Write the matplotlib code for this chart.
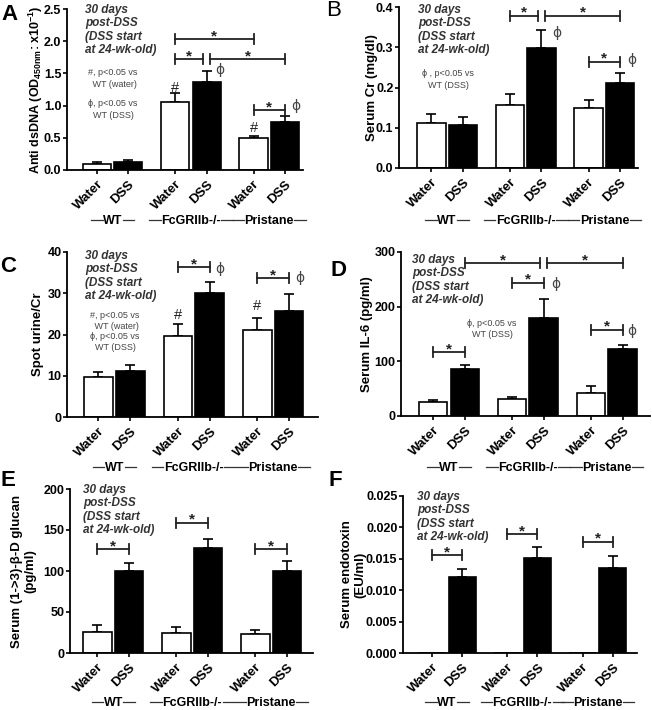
from matplotlib import pyplot as plt
from matplotlib import transforms
from matplotlib.lines import Line2D

plt.rcParams['font.family'] = ['Liberation Sans', 'DejaVu Sans']
plt.rcParams['font.weight'] = 'bold'
plt.rcParams['mathtext.fontset'] = 'custom'
plt.rcParams['mathtext.rm'] = 'Liberation Sans:bold'
plt.rcParams['mathtext.bf'] = 'Liberation Sans:bold'
plt.rcParams['mathtext.default'] = 'bf'

# 数据 (均值 / 上误差), 每组顺序: WT water, WT DSS, FcGR water, FcGR DSS, Pristane water, Pristane DSS
groups = ['WT', 'FcGRIIb-/-', 'Pristane']
bar_labels = ['Water', 'DSS', 'Water', 'DSS', 'Water', 'DSS']

a_mean = [0.10, 0.13, 1.06, 1.36, 0.49, 0.75]
a_err = [0.02, 0.02, 0.13, 0.17, 0.04, 0.09]
b_mean = [0.113, 0.107, 0.156, 0.299, 0.148, 0.210]
b_err = [0.022, 0.019, 0.029, 0.044, 0.020, 0.025]
c_mean = [9.7, 11.1, 19.7, 30.0, 21.1, 25.8]
c_err = [1.2, 1.5, 2.9, 2.7, 2.8, 4.0]
d_mean = [25.7, 85.6, 31.8, 178.6, 42.8, 121.7]
d_err = [3.0, 7.4, 3.0, 35.4, 11.6, 8.6]
e_mean = [25.7, 100.4, 24.9, 128.6, 23.7, 100.4]
e_err = [8.2, 9.8, 6.9, 10.2, 4.9, 11.8]
f_mean = [0, 0.0121, 0, 0.0152, 0, 0.0135]
f_err = [0, 0.0013, 0, 0.0017, 0, 0.0020]

# 显著性标记 (左柱, 右柱, 高度)
a_sig = [(2, 4, 2.03), (2, 3, 1.72), (3, 5, 1.72), (4, 5, 0.93)]
b_sig = [(2, 3, 0.378), (3, 5, 0.378), (4, 5, 0.264)]
c_sig = [(2, 3, 36.25), (4, 5, 33.7)]
d_sig = [(1, 3, 279), (3, 5, 279), (2, 3, 244), (0, 1, 117), (4, 5, 158)]
e_sig = [(0, 1, 126.5), (2, 3, 159), (4, 5, 126.5)]
f_sig = [(0, 1, 0.01559), (2, 3, 0.01888), (4, 5, 0.01771)]

note = '30 days\npost-DSS\n(DSS start\nat 24-wk-old)'
W, H = 652, 710
pos = [0, 1, 2.5, 3.5, 5, 6]

fig = plt.figure(figsize=(W / 100, H / 100), dpi=100)
group_texts = []


def panel(box, xlim, ylim, yticks, fmt, mean, err, sig, ylabel, ylab_x,
          letter, letter_xy, note_xy, group_y, hashes=(), phis=(), legend=None,
          letter_weight='bold', bar_w=0.9, ylab_size=9.5):
    l, r, t, b = box
    ax = fig.add_axes([l / W, 1 - b / H, (r - l) / W, (b - t) / H])
    hpx = b - t
    span = ylim[1] - ylim[0]
    colors = ['white', 'black'] * 3
    ax.bar(pos, mean, width=bar_w, color=colors, edgecolor='black', linewidth=1.2, zorder=2)
    for x, m, e in zip(pos, mean, err):
        if e > 0:
            ax.errorbar(x, m, yerr=[[0], [e]], color='black', capsize=3.5,
                        elinewidth=1.2, capthick=1.2, zorder=1)
    ax.set_xlim(xlim)
    ax.set_ylim(ylim)
    ax.set_yticks(yticks)
    ax.set_yticklabels([fmt % v for v in yticks], fontsize=9, fontweight='bold')
    ax.set_xticks(pos)
    ax.set_xticklabels(bar_labels, rotation=45, ha='right', rotation_mode='anchor',
                       fontsize=9.5, fontweight='bold')
    for s in ['top', 'right']:
        ax.spines[s].set_visible(False)
    for s in ['left', 'bottom']:
        ax.spines[s].set_linewidth(1.3)
    ax.tick_params(width=1.2, length=3)
    ax.tick_params(axis='y', pad=1)
    ax.tick_params(axis='x', pad=3)

    ax.text(ylab_x, 0.5, ylabel, rotation=90, transform=ax.transAxes,
            ha='center', va='center', fontsize=ylab_size, fontweight='bold',
            multialignment='center')

    # 括号
    ends = {}
    for i, j, y in sig:
        ends.setdefault((i, y), []).append('L')
        ends.setdefault((j, y), []).append('R')
    tick = 5 / hpx * span
    for i, j, y in sig:
        x1, x2 = pos[i], pos[j]
        if len(ends[(i, y)]) > 1:
            x1 += 0.12
        if len(ends[(j, y)]) > 1:
            x2 -= 0.1
        ax.plot([x1, x2], [y, y], color='#222222', lw=1.3, clip_on=False)
        for x in (x1, x2):
            ax.plot([x, x], [y - tick, y + tick], color='#222222', lw=1.3, clip_on=False)
        ax.text((x1 + x2) / 2, y - 1 / hpx * span, '*', ha='center', va='baseline',
                fontsize=11, fontweight='bold', color='#222222')
    for i, y in hashes:
        ax.text(pos[i], y, '#', ha='center', va='center', fontsize=10.5,
                fontweight='normal', color='#222222')
    for i, dx, y in phis:
        ax.text(pos[i] + dx, y, 'ϕ', ha='center', va='center', fontsize=10,
                fontweight='normal', color='#444444', family=['DejaVu Sans'])

    fig.text(note_xy[0] / W, 1 - note_xy[1] / H, note, ha='left', va='top',
             fontsize=8.5, fontweight='bold', style='italic', color='#333333',
             linespacing=1.15)
    if legend:
        for txt, lx, ly, ls in legend:
            fig.text(lx / W, 1 - ly / H, txt, ha='center', va='center', fontsize=6.5,
                     fontweight='normal', color='#444444', linespacing=ls,
                     family=['Liberation Sans', 'DejaVu Sans'])
    fig.text(letter_xy[0] / W, 1 - letter_xy[1] / H, letter, ha='center', va='center',
             fontsize=16, fontweight=letter_weight)

    trans = transforms.blended_transform_factory(ax.transData, fig.transFigure)
    for g, name in enumerate(groups):
        tx = ax.text((pos[2 * g] + pos[2 * g + 1]) / 2, 1 - group_y / H, name,
                     transform=trans, ha='center', va='center', fontsize=9, fontweight='bold')
        group_texts.append((tx, group_y))
    return ax


panel((67, 303, 9, 170), (-0.96, 6.58), (0, 2.5), [0, 0.5, 1.0, 1.5, 2.0, 2.5], '%.1f',
      a_mean, a_err, a_sig, r'Anti dsDNA (OD$_{450nm}$: x10$^{-1}$)', -0.13,
      'A', (9, 14), (85, 4), 221,
      hashes=[(2, 1.27), (4, 0.65)], phis=[(3, 0.42, 1.55), (5, 0.35, 0.99)],
      legend=[('#, p<0.05 vs\n WT (water)', 113, 78.5, 1.4),
              ('ϕ, p<0.05 vs\nWT (DSS)', 113, 109.5, 1.4)], ylab_size=9)

panel((399, 638, 7, 168), (-1.03, 6.57), (0, 0.4), [0, 0.1, 0.2, 0.3, 0.4], '%.1f',
      b_mean, b_err, b_sig, 'Serum Cr (mg/dl)', -0.115,
      'B', (334, 10), (418, 4), 221,
      phis=[(3, 0.5, 0.335), (5, 0.38, 0.269)],
      legend=[('ϕ , p<0.05 vs\nWT (DSS)', 448, 79.5, 1.4)],
      letter_weight='normal')

panel((67, 318, 252, 417), (-0.99, 6.91), (0, 40), [0, 10, 20, 30, 40], '%d',
      c_mean, c_err, c_sig, 'Spot urine/Cr', -0.116,
      'C', (8, 267), (85, 250), 468,
      hashes=[(2, 24.7), (4, 26.8)], phis=[(3, 0.32, 36.0), (5, 0.35, 33.7)],
      legend=[('#, p<0.05 vs\n WT (water)\nϕ, p<0.05 vs\nWT (DSS)', 115, 331.5, 1.2)])

panel((401, 650, 252, 416), (-1.02, 6.87), (0, 300), [0, 100, 200, 300], '%d',
      d_mean, d_err, d_sig, 'Serum IL-6 (pg/ml)', -0.135,
      'D', (338, 271), (412, 254), 468,
      phis=[(3, 0.38, 242), (5, 0.3, 156)],
      legend=[('ϕ, p<0.05 vs\nWT (DSS)', 492, 329, 1.4)])

panel((70, 313, 489, 653), (-0.87, 6.82), (0, 200), [0, 50, 100, 150, 200], '%d',
      e_mean, e_err, e_sig, 'Serum (1->3)-β-D glucan\n(pg/ml)', -0.19,
      'E', (8, 480), (83, 484), 703)

panel((403, 637, 496, 653), (-0.96, 6.8), (0, 0.025), [0, 0.005, 0.010, 0.015, 0.020, 0.025], '%.3f',
      f_mean, f_err, f_sig, 'Serum endotoxin\n(EU/ml)', -0.21,
      'F', (335, 481), (417, 491), 703)

# 组名两侧的细线
renderer = fig.canvas.get_renderer()
for tx, gy in group_texts:
    bb = tx.get_window_extent(renderer)
    yc = 1 - (gy - 1) / H
    for xa, xb in ((bb.x0 - 12, bb.x0 - 0.5), (bb.x1 + 0.5, bb.x1 + 12)):
        fig.add_artist(Line2D([xa / W, xb / W], [yc, yc], transform=fig.transFigure,
                              color='#333333', lw=0.9))

plt.savefig('out.png', dpi=100)
